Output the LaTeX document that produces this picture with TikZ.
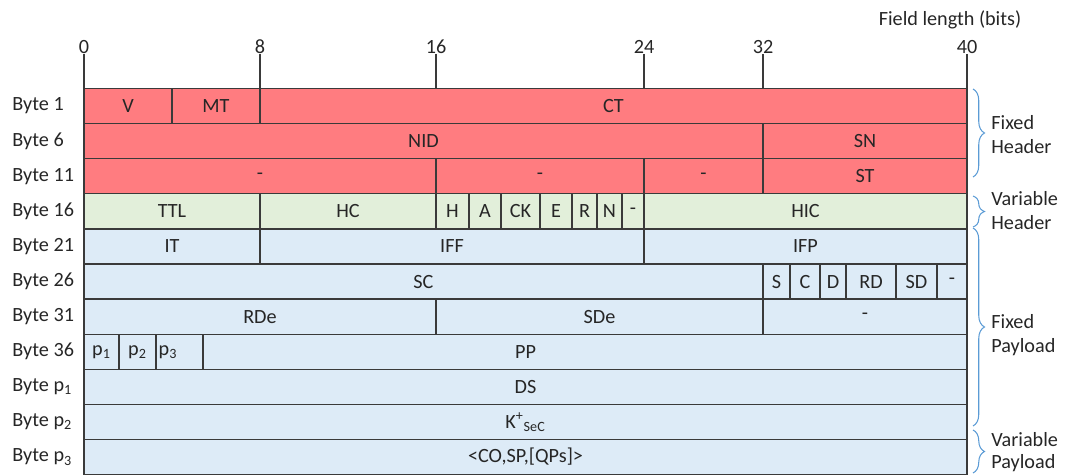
\documentclass[tikz,border=0pt]{standalone}
\usepackage{fontspec}
\setmainfont{Carlito}
\usetikzlibrary{decorations.pathreplacing}

\definecolor{hdrred}{HTML}{FF7C80}
\definecolor{hdrgreen}{HTML}{E2EFDA}
\definecolor{plblue}{HTML}{DDEBF7}
\definecolor{gridline}{HTML}{3A3A3A}
\definecolor{textcol}{HTML}{262626}
\definecolor{bracecol}{HTML}{5B9BD5}

\begin{document}
\begin{tikzpicture}[x=0.02cm,y=-0.02cm,
  cell/.style={draw=gridline,line width=0.75pt},
  txt/.style={font=\fontsize{11.5}{13.7}\selectfont,text=textcol,inner sep=0pt},
  bytelbl/.style={txt,anchor=west},
  spanbrace/.style={draw=bracecol,line width=0.6pt,decorate,decoration={brace,amplitude=0.23cm}},
  spanlbl/.style={txt,anchor=west,align=left}]
  \def\xL{84}
  \def\xR{967}
  \def\yT{88.5}
  \def\H{35.1}

  \useasboundingbox (0,0) rectangle (1069,475);

  % Fill rows
  \foreach \row/\col in {0/hdrred,1/hdrred,2/hdrred,3/hdrgreen,4/plblue,5/plblue,6/plblue,7/plblue,8/plblue,9/plblue,10/plblue} {
    \draw[cell,fill=\col] (\xL,{\yT+\row*\H}) rectangle (\xR,{\yT+(\row+1)*\H});
  }

  % Field borders
  \foreach \row/\x in {0/172,0/260,1/763,2/436,2/644,2/763,3/260,3/436,3/469,3/501,3/540,3/572,3/597,3/622,3/644,4/260,4/644,5/763,5/790,5/820,5/846,5/896,5/937,6/436,6/763,7/119,7/156,7/203} {
    \draw[cell] (\x,{\yT+\row*\H}) -- (\x,{\yT+(\row+1)*\H});
  }

  % Bit ticks
  \foreach \bit/\x in {0/84,8/260,16/436,24/644,32/763,40/967} {
    \node[txt,anchor=south] (t\bit) at (\x,54) {\bit};
    \coordinate (c\bit) at (\x,\yT);
    \draw[cell] (t\bit.south) -- (c\bit);
  }
  \node[txt] (flen) at (950,20) {Field length (bits)};

  % Row 0
  \node[txt] (v) at (128,{\yT+0.5*\H}) {V};
  \node[txt] (mt) at (216,{\yT+0.5*\H}) {MT};
  \node[txt] (ct) at (613.5,{\yT+0.5*\H}) {CT};

  % Row 1
  \node[txt] (nid) at (423.5,{\yT+1.5*\H}) {NID};
  \node[txt] (sn) at (865,{\yT+1.5*\H}) {SN};

  % Row 2
  \node[txt] (resa) at (260,{\yT+2.5*\H}) {-};
  \node[txt] (resb) at (540,{\yT+2.5*\H}) {-};
  \node[txt] (resc) at (703.5,{\yT+2.5*\H}) {-};
  \node[txt] (st) at (865,{\yT+2.5*\H}) {ST};

  % Row 3
  \node[txt] (ttl) at (172,{\yT+3.5*\H}) {TTL};
  \node[txt] (hc) at (348,{\yT+3.5*\H}) {HC};
  \node[txt] (h) at (452.5,{\yT+3.5*\H}) {H};
  \node[txt] (a) at (485,{\yT+3.5*\H}) {A};
  \node[txt] (ck) at (520.5,{\yT+3.5*\H}) {CK};
  \node[txt] (e) at (556,{\yT+3.5*\H}) {E};
  \node[txt] (r) at (584.5,{\yT+3.5*\H}) {R};
  \node[txt] (n) at (609.5,{\yT+3.5*\H}) {N};
  \node[txt] (resd) at (633,{\yT+3.5*\H}) {-};
  \node[txt] (hic) at (805.5,{\yT+3.5*\H}) {HIC};

  % Row 4
  \node[txt] (it) at (172,{\yT+4.5*\H}) {IT};
  \node[txt] (iff) at (452,{\yT+4.5*\H}) {IFF};
  \node[txt] (ifp) at (805.5,{\yT+4.5*\H}) {IFP};

  % Row 5
  \node[txt] (sc) at (423.5,{\yT+5.5*\H}) {SC};
  \node[txt] (s) at (776.5,{\yT+5.5*\H}) {S};
  \node[txt] (c) at (805,{\yT+5.5*\H}) {C};
  \node[txt] (d) at (833,{\yT+5.5*\H}) {D};
  \node[txt] (rd) at (871,{\yT+5.5*\H}) {RD};
  \node[txt] (sd) at (916.5,{\yT+5.5*\H}) {SD};
  \node[txt] (rese) at (952,{\yT+5.5*\H}) {-};

  % Row 6
  \node[txt] (rde) at (260,{\yT+6.5*\H}) {RDe};
  \node[txt] (sde) at (599.5,{\yT+6.5*\H}) {SDe};
  \node[txt] (resf) at (865,{\yT+6.5*\H}) {-};

  % Row 7
  \node[txt] (pa) at (101.5,{\yT+7.5*\H}) {p\textsubscript{1}};
  \node[txt] (pb) at (137.5,{\yT+7.5*\H}) {p\textsubscript{2}};
  \node[txt] (pc) at (168,{\yT+7.5*\H}) {p\textsubscript{3}};
  \node[txt] (pp) at (525.5,{\yT+7.5*\H}) {PP};

  % Rows 8-10
  \node[txt] (ds) at (525.5,{\yT+8.5*\H}) {DS};
  \node[txt] (ksec) at (525.5,{\yT+9.5*\H}) {K\textsuperscript{+}\textsubscript{SeC}};
  \node[txt] (cosp) at (525.5,{\yT+10.5*\H}) {<CO,SP,[QPs]>};

  % Byte labels
  \foreach \row/\lbl/\nm in {0/1/ba,1/6/bb,2/11/bc,3/16/bd,4/21/be,5/26/bf,6/31/bg,7/36/bh,8/p\textsubscript{1}/bi,9/p\textsubscript{2}/bj,10/p\textsubscript{3}/bk} {
    \node[bytelbl] (\nm) at (12,{\yT+(\row+0.5)*\H}) {Byte \lbl};
  }

  % Braces
  \draw[spanbrace] (973,89) -- (973,177);
  \node[spanlbl] (fhdr) at (991,135) {Fixed\\Header};
  \draw[spanbrace] (973,196) -- (973,227);
  \node[spanlbl] (vhdr) at (991,211) {Variable\\Header};
  \draw[spanbrace] (973,228) -- (973,426);
  \node[spanlbl] (fpld) at (991,335) {Fixed\\Payload};
  \draw[spanbrace] (973,430) -- (973,473);
  \node[spanlbl] (vpld) at (991,452) {Variable\\[-1.5pt]Payload};
\end{tikzpicture}
\end{document}
